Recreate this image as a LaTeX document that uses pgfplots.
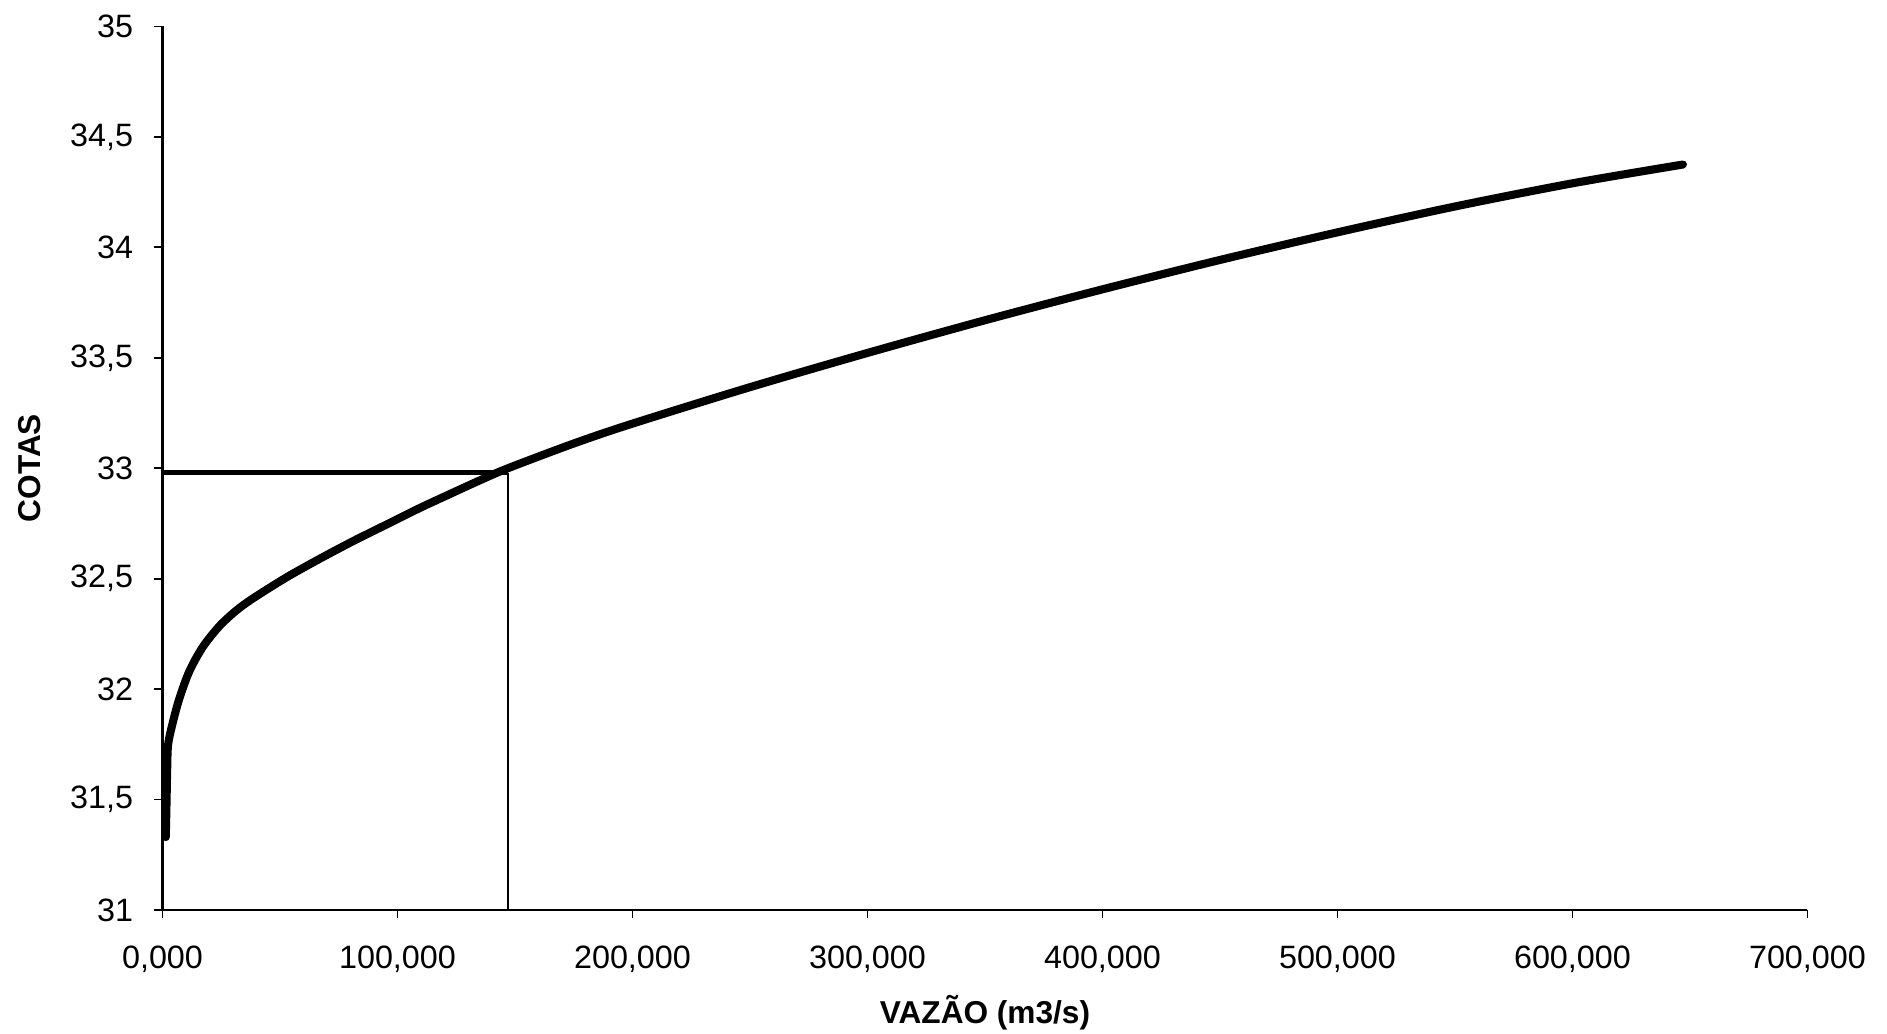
\documentclass[border=0pt]{standalone}
\usepackage{fontspec}
\setmainfont{Liberation Sans}
\usepackage{pgfplots}
\pgfplotsset{compat=1.18}
\begin{document}
\begin{tikzpicture}
\begin{axis}[
  at={(0,0)}, anchor=south west,
  scale only axis,
  width=164.5mm, height=88.35mm,
  xmin=0, xmax=700, ymin=31, ymax=35,
  axis x line*=bottom, axis y line*=left,
  axis line style={line width=0.6pt, black},
  xtick={0,100,...,700},
  ytick={31,31.5,...,35},
  tick align=outside,
  major tick length=0.8mm,
  tick style={line width=0.5pt, black},
  x tick label style={/pgf/number format/fixed, /pgf/number format/fixed zerofill, /pgf/number format/precision=3, /pgf/number format/use comma, /pgf/number format/1000 sep={}},
  y tick label style={/pgf/number format/fixed, /pgf/number format/use comma, /pgf/number format/1000 sep={}},
  /pgf/number format/assume math mode=true,
  tick label style={font=\fontsize{9.2}{10}\selectfont},
  xticklabel style={yshift=-1.6mm},
  yticklabel style={xshift=-0.9mm},
  xlabel={\textbf{VAZÃO (m3/s)}},
  ylabel={\textbf{COTAS}},
  label style={font=\fontsize{9}{10}\selectfont},
  xlabel style={at={(axis description cs:0.5,0)}, anchor=center, yshift=-10.3mm},
  ylabel style={at={(axis description cs:0,0.5)}, anchor=center, xshift=0mm, yshift=13.25mm},
  clip=false,
]
% rating curve
\addplot[black, line width=2.3pt, line cap=round, line join=round, smooth, tension=0.5] coordinates {
(1.4,31.33) (1.7,31.48) (2.0,31.64) (2.4,31.75) (4.3,31.845) (7.1,31.955)
(11.4,32.08) (17.1,32.19) (24.2,32.285) (31.3,32.355) (38.4,32.41) (52.6,32.505)
(66.9,32.59) (81.1,32.67) (95.3,32.745) (109.5,32.82) (123.7,32.89) (135,32.945)
(147,33.00) (175,33.112) (200,33.202) (250,33.367) (300,33.522) (350,33.67)
(400,33.81) (450,33.943) (500,34.068) (550,34.185) (600,34.29) (647,34.375)
};
% reference lines
\addplot[black, line width=1.3pt] coordinates {(0,32.98) (147,32.98)};
\addplot[black, line width=0.7pt] coordinates {(147,31) (147,32.98)};
\end{axis}
\pgfresetboundingbox
\path (-16.25mm,-12.4mm) rectangle (172.45mm,91mm);
\end{tikzpicture}
\end{document}
